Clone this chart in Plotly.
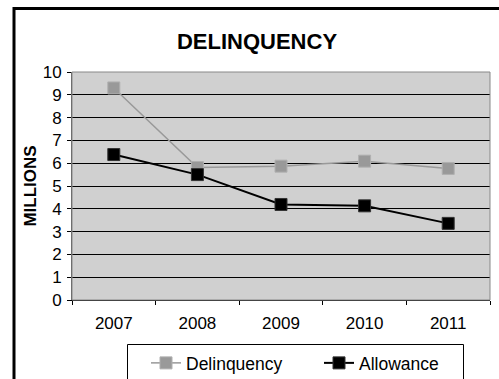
import plotly.graph_objects as go

years = ["2007", "2008", "2009", "2010", "2011"]
delinquency = [9.30, 5.81, 5.87, 6.09, 5.77]
allowance = [6.38, 5.50, 4.19, 4.13, 3.36]
y_ticks = list(range(0, 11))

W, H = 499, 379
L, R, T, B = 72, 490, 72, 300  # plot area in pixels


def px(x):
    return (x - L) / (R - L)


def py(y):
    return (B - y) / (B - T)


FONT = "Liberation Sans, Arial, sans-serif"

fig = go.Figure()
fig.add_trace(go.Scatter(
    x=years, y=delinquency, name="Delinquency", mode="lines+markers",
    line=dict(color="#999999", width=1.5),
    marker=dict(symbol="square", size=12, color="#999999",
                line=dict(color="#b0b0b0", width=1)),
))
fig.add_trace(go.Scatter(
    x=years, y=allowance, name="Allowance", mode="lines+markers",
    line=dict(color="#000000", width=2),
    marker=dict(symbol="square", size=12, color="#000000",
                line=dict(color="#333333", width=1)),
))

shapes = [
    # outer chart frame
    dict(type="rect", xref="paper", yref="paper",
         x0=px(14), x1=px(510), y0=py(8.5), y1=py(400),
         line=dict(color="#000000", width=3), layer="below"),
    # plot area border
    dict(type="rect", xref="paper", yref="paper",
         x0=0, x1=1, y0=0, y1=1,
         line=dict(color="#888888", width=1), layer="above"),
    # legend box
    dict(type="rect", xref="paper", yref="paper",
         x0=px(127.5), x1=px(463.5), y0=py(344.5), y1=py(400),
         line=dict(color="#000000", width=1), layer="below"),
]

fig.update_layout(
    width=W, height=H,
    margin=dict(l=L, r=W - R, t=T, b=H - B, pad=0, autoexpand=False),
    paper_bgcolor="#ffffff",
    plot_bgcolor="#d0d0d0",
    font=dict(family=FONT, size=17, color="#000000"),
    title=dict(text="<b>DELINQUENCY</b>", x=257 / W, xanchor="center",
               y=1 - 41 / H, yanchor="middle", yref="container",
               font=dict(family=FONT, size=22, color="#000000")),
    xaxis=dict(type="category", range=[-0.5, 4.5], tickson="boundaries",
               ticks="outside", ticklen=4, tickcolor="#000000",
               showline=True, linecolor="#000000", linewidth=1,
               showgrid=False, zeroline=False, ticklabelstandoff=8),
    yaxis=dict(range=[0, 10], tickvals=y_ticks, ticks="outside", ticklen=4,
               tickcolor="#000000", showline=True, linecolor="#555555",
               linewidth=1, showgrid=True, gridcolor="#000000", gridwidth=1,
               zeroline=False, ticklabelstandoff=2,
               title=dict(text="<b>MILLIONS</b>", standoff=1,
                          font=dict(family=FONT, size=17))),
    showlegend=True,
    legend=dict(orientation="h", x=px(146), y=py(345), xanchor="left",
                yanchor="top", bgcolor="rgba(0,0,0,0)", borderwidth=0,
                entrywidth=128, entrywidthmode="pixels",
                font=dict(family=FONT, size=17.5)),
    shapes=shapes,
)

fig.write_html("out.html")
